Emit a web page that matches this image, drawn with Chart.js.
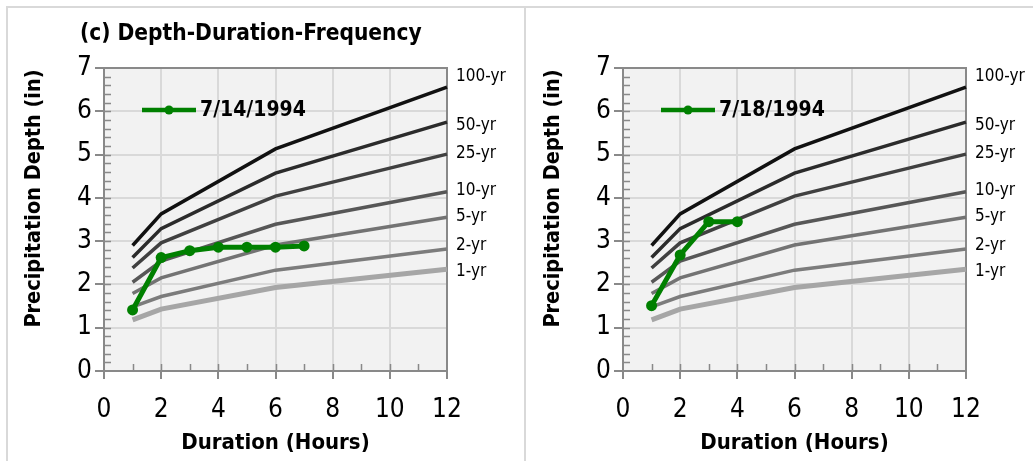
<!DOCTYPE html>
<html>
<head>
<meta charset="utf-8">
<script src="https://cdn.jsdelivr.net/npm/chart.js@4"></script>
<style>
  body { margin: 0; background: #fff; width: 1033px; height: 461px; overflow: hidden; position: relative; }
  .frame { position: absolute; background: #d9d9d9; }
  .panel { position: absolute; top: 7px; }
  #title { position: absolute; left: 80px; top: 20px; font: bold 22.5px 'DejaVu Sans Condensed', 'Liberation Sans', sans-serif; line-height: 24px; color: #000; white-space: nowrap; }
</style>
</head>
<body>
<div class="frame" style="left:6px;top:6px;width:1027px;height:2px"></div>
<div class="frame" style="left:6px;top:6px;width:2px;height:455px"></div>
<div class="frame" style="left:524px;top:6px;width:2px;height:455px"></div>
<canvas id="left" class="panel" style="left:7px" width="517" height="454"></canvas>
<canvas id="right" class="panel" style="left:526px" width="507" height="454"></canvas>
<div id="title">(c) Depth-Duration-Frequency</div>
<script>
// DDF curves (inches) at 1, 2, 6 and 12 hours
const durations = [1, 2, 6, 12];
const ddf100 = [2.90, 3.63, 5.13, 6.56];
const ddf50  = [2.62, 3.29, 4.57, 5.75];
const ddf25  = [2.38, 2.96, 4.04, 5.01];
const ddf10  = [2.05, 2.54, 3.39, 4.14];
const ddf5   = [1.79, 2.15, 2.91, 3.55];
const ddf2   = [1.48, 1.72, 2.33, 2.82];
const ddf1   = [1.18, 1.43, 1.93, 2.35];
const returnLabels = ['100-yr', '50-yr', '25-yr', '10-yr', '5-yr', '2-yr', '1-yr'];

// storms
const storm1Label = '7/14/1994';
const storm1Hours = [1, 2, 3, 4, 5, 6, 7];
const storm1Depth = [1.41, 2.62, 2.78, 2.86, 2.86, 2.86, 2.89];
const storm2Label = '7/18/1994';
const storm2Hours = [1, 2, 3, 4];
const storm2Depth = [1.51, 2.68, 3.45, 3.45];

const yTitle = 'Precipitation Depth (in)';
const xTitle = 'Duration (Hours)';

const FONT = "'DejaVu Sans Condensed', 'Liberation Sans', sans-serif";
const curveColors = ['#111111', '#2b2b2b', '#404040', '#575757', '#737373', '#7c7c7c', '#a6a6a6'];
const curveWidths = [3.5, 3.5, 3.5, 3.5, 3.5, 3.5, 5];
const labelNudge = [-10, 3, -0.5, -1, -0.5, -3.5, 2.5];
const GREEN = '#008000';

const pairs = (xs, ys) => xs.map((x, i) => ({ x: x, y: ys[i] }));

const panelPlugin = {
  id: 'panel',
  beforeDraw(chart) {
    const { ctx, chartArea: a } = chart;
    ctx.save();
    ctx.fillStyle = '#f2f2f2';
    ctx.fillRect(a.left, a.top, a.right - a.left, a.bottom - a.top);
    ctx.restore();
  },
  beforeDatasetsDraw(chart) {
    const { ctx, chartArea: a, scales } = chart;
    ctx.save();
    ctx.strokeStyle = '#898989';
    ctx.lineWidth = 2;
    ctx.strokeRect(a.left, a.top, a.right - a.left, a.bottom - a.top);
    ctx.lineWidth = 1.5;
    ctx.beginPath();
    // inward minor ticks
    for (let v = 0.2; v < 7; v += 0.2) {
      const y = Math.round(scales.y.getPixelForValue(v)) + 0.5;
      ctx.moveTo(a.left, y); ctx.lineTo(a.left + 7, y);
    }
    for (let h = 1; h < 12; h += 1) {
      const x = Math.round(scales.x.getPixelForValue(h)) + 0.5;
      ctx.moveTo(x, a.bottom); ctx.lineTo(x, a.bottom - 7);
    }
    ctx.stroke();
    ctx.restore();
  },
  afterDraw(chart) {
    const { ctx, chartArea: a, scales } = chart;
    ctx.save();
    ctx.fillStyle = '#000';
    ctx.font = '17px ' + FONT;
    ctx.textBaseline = 'middle';
    chart.data.datasets.forEach((ds) => {
      if (ds.tag === undefined) return;
      const last = ds.data[ds.data.length - 1];
      const y = scales.y.getPixelForValue(last.y) + labelNudge[ds.tag];
      ctx.fillText(returnLabels[ds.tag], a.right + 9, y);
    });

    // y axis title, set a bit above the plot centre like the original
    ctx.save();
    ctx.translate(27, (a.top + a.bottom) / 2 - 21);
    ctx.rotate(-Math.PI / 2);
    ctx.textAlign = 'center';
    ctx.font = 'bold 21.5px ' + FONT;
    ctx.fillText(yTitle, 0, 0);
    ctx.restore();

    // legend
    const storm = chart.data.datasets[0];
    const ly = a.top + 42;
    const lx = a.left + 38;
    ctx.strokeStyle = GREEN;
    ctx.lineWidth = 4.5;
    ctx.beginPath();
    ctx.moveTo(lx, ly); ctx.lineTo(lx + 54, ly);
    ctx.stroke();
    ctx.fillStyle = GREEN;
    ctx.beginPath();
    ctx.arc(lx + 27, ly, 4.5, 0, Math.PI * 2);
    ctx.fill();
    ctx.fillStyle = '#000';
    ctx.font = 'bold 21px ' + FONT;
    ctx.fillText(storm.label, lx + 58, ly + 1);
    ctx.restore();
  }
};

function makeChart(id, padRight, label, hours, depths) {
  const ddf = [ddf100, ddf50, ddf25, ddf10, ddf5, ddf2, ddf1];
  const datasets = [{
    label: label,
    data: pairs(hours, depths),
    borderColor: GREEN,
    backgroundColor: GREEN,
    borderWidth: 5,
    pointRadius: 5.5,
    pointBackgroundColor: GREEN,
    pointBorderWidth: 0,
    clip: false
  }];
  ddf.forEach((vals, i) => {
    datasets.push({
      label: returnLabels[i],
      tag: i,
      data: pairs(durations, vals),
      borderColor: curveColors[i],
      borderWidth: curveWidths[i],
      pointRadius: 0,
      clip: false
    });
  });

  return new Chart(document.getElementById(id), {
    type: 'line',
    data: { datasets: datasets },
    options: {
      responsive: false,
      animation: false,
      devicePixelRatio: 1,
      layout: { padding: { top: 61, right: padRight, bottom: 0, left: 0 } },
      plugins: { legend: { display: false }, tooltip: { enabled: false }, title: { display: false } },
      scales: {
        x: {
          type: 'linear', min: 0, max: 12,
          afterFit: s => { s.height = 90; },
          ticks: { stepSize: 2, color: '#000', font: { family: FONT, size: 26 }, padding: 16, maxRotation: 0 },
          grid: { color: '#d9d9d9', lineWidth: 2, tickColor: '#898989', tickLength: 8 },
          border: { display: false },
          title: { display: true, text: xTitle, color: '#000', font: { family: FONT, size: 22, weight: 'bold' }, padding: { top: 0, bottom: 5 } }
        },
        y: {
          type: 'linear', min: 0, max: 7,
          afterFit: s => { s.width = 97; },
          ticks: { stepSize: 1, color: '#000', font: { family: FONT, size: 26 }, padding: 3 },
          grid: { color: '#d9d9d9', lineWidth: 2, tickColor: '#898989', tickLength: 9 },
          border: { display: false }
        }
      }
    },
    plugins: [panelPlugin]
  });
}

makeChart('left', 77, storm1Label, storm1Hours, storm1Depth);
makeChart('right', 67, storm2Label, storm2Hours, storm2Depth);
</script>
</body>
</html>
